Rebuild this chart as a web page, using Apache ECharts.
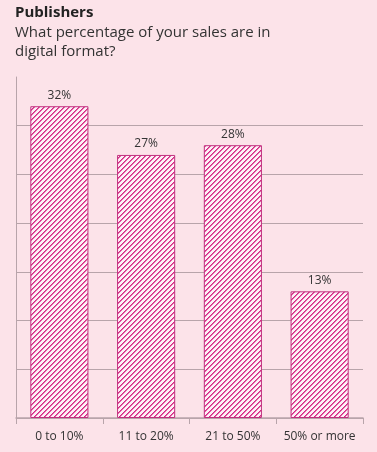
<!DOCTYPE html>
<html>
<head>
<meta charset="utf-8">
<script src="https://cdn.jsdelivr.net/npm/echarts@6/dist/echarts.min.js"></script>
<style>
  html, body { margin: 0; padding: 0; background: #fce3e9; }
  #main { width: 377px; height: 452px; }
</style>
</head>
<body>
<div id="main"></div>
<script>
const categories = ["0 to 10%", "11 to 20%", "21 to 50%", "50% or more"];
const values = [32, 27, 28, 13];

// diagonal hatch pattern for the bars
function makeHatch() {
  const c = document.createElement("canvas");
  c.width = 10;
  c.height = 10;
  const ctx = c.getContext("2d");
  const img = ctx.createImageData(10, 10);
  for (let y = 0; y < 10; y++) {
    for (let x = 0; x < 10; x++) {
      const i = (y * 10 + x) * 4;
      const m = (x + y) % 5;
      let col;
      if (m === 0) col = [214, 40, 135];
      else if (m === 1) col = [228, 105, 168];
      else col = [253, 242, 246];
      img.data[i] = col[0];
      img.data[i + 1] = col[1];
      img.data[i + 2] = col[2];
      img.data[i + 3] = 255;
    }
  }
  ctx.putImageData(img, 0, 0);
  return c;
}

const chartDom = document.getElementById("main");
const myChart = echarts.init(chartDom);
const option = {
  backgroundColor: "#fce3e9",
  animation: false,
  title: {
    text: "Publishers",
    subtext: "What percentage of your sales are in\ndigital format?",
    left: 10,
    top: 0,
    itemGap: 3,
    textStyle: {
      fontFamily: "Open Sans",
      fontSize: 15,
      fontWeight: "bold",
      color: "#222",
    },
    subtextStyle: {
      fontFamily: "Open Sans",
      fontSize: 15,
      color: "#333",
      lineHeight: 19,
    },
  },
  grid: { left: 16, right: 14, top: 77, bottom: 34, containLabel: false },
  xAxis: {
    type: "category",
    data: categories,
    axisLine: { lineStyle: { color: "#b8a4aa", width: 1.5 } },
    axisTick: { show: true, length: 6, lineStyle: { color: "#b8a4aa" } },
    axisLabel: {
      interval: 0,
      fontFamily: "Open Sans",
      fontSize: 12,
      color: "#333",
      margin: 13,
    },
  },
  yAxis: {
    type: "value",
    min: 0,
    max: 35,
    interval: 5,
    axisLine: { show: true, lineStyle: { color: "#b8a4aa" } },
    axisTick: { show: false },
    axisLabel: { show: false },
    splitLine: { showMaxLine: false, lineStyle: { color: "#b8a4aa", width: 1.2 } },
  },
  series: [
    {
      type: "bar",
      data: values,
      barWidth: "67%",
      itemStyle: {
        color: { image: makeHatch(), repeat: "repeat" },
        borderColor: "#c0307f",
        borderWidth: 1,
      },
      label: {
        show: true,
        position: "top",
        formatter: "{c}%",
        fontFamily: "Open Sans",
        fontSize: 12,
        color: "#333",
        distance: 5,
      },
    },
  ],
};
option && myChart.setOption(option);
</script>
</body>
</html>
